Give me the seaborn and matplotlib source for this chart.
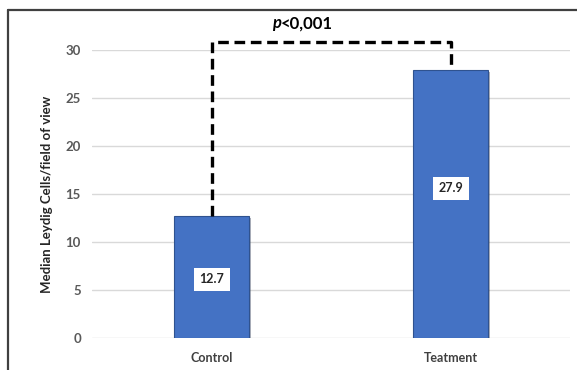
import matplotlib
matplotlib.use("Agg")
import matplotlib.pyplot as plt
import matplotlib.patheffects as pe
from matplotlib.lines import Line2D
import seaborn as sns
import pandas as pd

categories = ["Control", "Teatment"]
values = [12.7, 27.9]
value_labels = ["12.7", "27.9"]
yticks = [0, 5, 10, 15, 20, 25, 30]
p_text_italic = "p"
p_text_rest = "<0,001"

sns.set_theme(style="white")
plt.rcParams["font.family"] = ["Lato", "DejaVu Sans"]

df = pd.DataFrame({"group": categories, "value": values})

fig = plt.figure(figsize=(5.77, 3.70), dpi=100)
ax = fig.add_axes([92/577, 32/370, (570-92)/577, (338-50)/370])

sns.barplot(data=df, x="group", y="value", ax=ax, color="#4472C4",
            width=0.31, saturation=1, edgecolor="#2F528F", linewidth=0.8)
for patch in ax.patches:
    patch.set_path_effects([pe.SimplePatchShadow(offset=(1.5, -1.5), alpha=0.35), pe.Normal()])

ax.set_xlim(-0.5, 1.5)
ax.set_ylim(0, 30)
ax.set_yticks(yticks)
ax.yaxis.grid(True, color="#D9D9D9", linewidth=1)
ax.set_axisbelow(True)
for s in ax.spines.values():
    s.set_visible(False)
ax.tick_params(axis="both", length=0, pad=8)
ax.tick_params(axis="y", labelsize=9.5, labelcolor="#595959")
ax.tick_params(axis="x", labelsize=9, labelcolor="#404040", pad=10)
for lbl in ax.get_yticklabels() + ax.get_xticklabels():
    lbl.set_fontweight("bold")
ax.set_xlabel("")
ax.set_ylabel("Median Leydig Cells/field of view", fontsize=9.5, fontweight="bold",
              color="#262626", labelpad=9)

# value labels in white boxes
label_pos = [6.1, 15.6]
for i, (lab, yp) in enumerate(zip(value_labels, label_pos)):
    ax.text(i, yp, lab, ha="center", va="center", fontsize=9, fontweight="bold",
            color="#262626",
            bbox=dict(boxstyle="square,pad=0.45", facecolor="white", edgecolor="none"))

# significance bracket
top = 30.8
ax.plot([0, 0, 1, 1], [values[0], top, top, values[1]], linestyle=(0, (3.2, 1.7)),
        color="black", linewidth=2.4, clip_on=False, dash_capstyle="butt")
ax.text(0.29, 32.8, p_text_italic, ha="right", va="center", fontsize=12,
        fontweight="bold", fontstyle="italic", color="black", clip_on=False)
ax.text(0.29, 32.8, p_text_rest, ha="left", va="center", fontsize=12,
        fontweight="bold", color="black", clip_on=False)

# outer frame (left and top)
fig.add_artist(Line2D([8/577, 8/577], [0, 1 - 10/370], transform=fig.transFigure,
                      color="#404040", linewidth=1.6))
fig.add_artist(Line2D([8/577, 1], [1 - 10/370, 1 - 10/370], transform=fig.transFigure,
                      color="#404040", linewidth=1.6))

fig.savefig("out.png", dpi=100)
